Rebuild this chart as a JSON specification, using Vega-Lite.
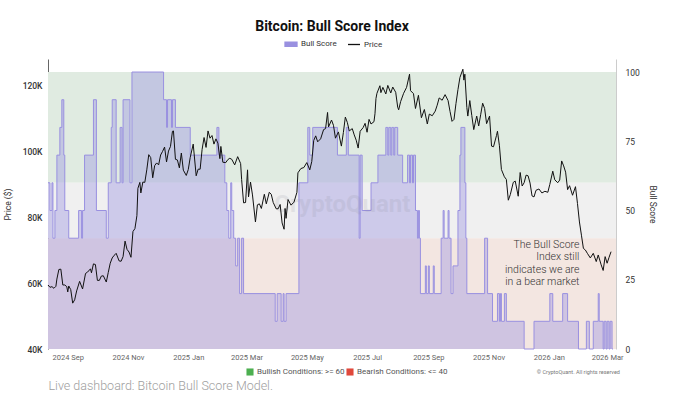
{
  "$schema": "https://vega.github.io/schema/vega-lite/v6.json",
  "width": 568,
  "height": 290,
  "autosize": "none",
  "padding": {"left": 48, "top": 59, "right": 59, "bottom": 46},
  "background": "white",
  "title": {
    "text": "Bitcoin: Bull Score Index",
    "frame": "group",
    "anchor": "middle",
    "offset": 3,
    "font": "Roboto",
    "fontSize": 14,
    "fontWeight": "bold",
    "color": "#111111"
  },
  "config": {
    "view": {"stroke": null},
    "axis": {"grid": false, "labelFont": "Roboto", "titleFont": "Roboto"},
    "legend": {"labelFont": "Roboto"},
    "text": {"font": "Roboto"}
  },
  "datasets": {
    "zones": [
      {"zone": "bull", "lo": 60, "hi": 100, "label": "Bullish Conditions: >= 60"},
      {"zone": "neutral", "lo": 40, "hi": 60, "label": "Neutral"},
      {"zone": "bear", "lo": 0, "hi": 40, "label": "Bearish Conditions: <= 40"}
    ],
    "score": [
      {"d": "2024-08-12", "s": 60}, {"d": "2024-08-14", "s": 50}, {"d": "2024-08-16", "s": 60},
      {"d": "2024-08-17", "s": 40}, {"d": "2024-08-19", "s": 50}, {"d": "2024-08-21", "s": 70},
      {"d": "2024-08-24", "s": 80}, {"d": "2024-08-26", "s": 90}, {"d": "2024-08-28", "s": 70},
      {"d": "2024-08-29", "s": 50}, {"d": "2024-09-02", "s": 40}, {"d": "2024-09-12", "s": 50},
      {"d": "2024-09-15", "s": 40}, {"d": "2024-09-16", "s": 50}, {"d": "2024-09-18", "s": 70},
      {"d": "2024-09-27", "s": 90}, {"d": "2024-09-30", "s": 50}, {"d": "2024-10-10", "s": 40},
      {"d": "2024-10-12", "s": 60}, {"d": "2024-10-15", "s": 80}, {"d": "2024-10-16", "s": 90},
      {"d": "2024-10-20", "s": 60}, {"d": "2024-10-24", "s": 80}, {"d": "2024-10-26", "s": 60},
      {"d": "2024-10-27", "s": 90}, {"d": "2024-11-03", "s": 60}, {"d": "2024-11-05", "s": 100},
      {"d": "2024-12-07", "s": 90}, {"d": "2024-12-10", "s": 80}, {"d": "2024-12-11", "s": 90},
      {"d": "2024-12-15", "s": 80}, {"d": "2024-12-16", "s": 90}, {"d": "2024-12-19", "s": 80},
      {"d": "2025-01-03", "s": 70}, {"d": "2025-01-30", "s": 80}, {"d": "2025-02-01", "s": 70},
      {"d": "2025-02-07", "s": 60}, {"d": "2025-02-09", "s": 50}, {"d": "2025-02-11", "s": 40},
      {"d": "2025-02-13", "s": 60}, {"d": "2025-02-14", "s": 50}, {"d": "2025-02-16", "s": 40},
      {"d": "2025-02-18", "s": 30}, {"d": "2025-02-20", "s": 40}, {"d": "2025-02-22", "s": 20},
      {"d": "2025-02-24", "s": 40}, {"d": "2025-02-26", "s": 20}, {"d": "2025-03-30", "s": 10},
      {"d": "2025-04-01", "s": 20}, {"d": "2025-04-05", "s": 10}, {"d": "2025-04-07", "s": 20},
      {"d": "2025-04-08", "s": 10}, {"d": "2025-04-10", "s": 20}, {"d": "2025-04-23", "s": 60},
      {"d": "2025-05-02", "s": 80}, {"d": "2025-05-04", "s": 70}, {"d": "2025-05-07", "s": 80},
      {"d": "2025-06-01", "s": 70}, {"d": "2025-06-10", "s": 80}, {"d": "2025-06-12", "s": 70},
      {"d": "2025-06-23", "s": 40}, {"d": "2025-06-24", "s": 70}, {"d": "2025-06-26", "s": 50},
      {"d": "2025-07-05", "s": 60}, {"d": "2025-07-12", "s": 70}, {"d": "2025-07-20", "s": 80},
      {"d": "2025-07-22", "s": 70}, {"d": "2025-07-23", "s": 80}, {"d": "2025-07-25", "s": 70},
      {"d": "2025-07-26", "s": 80}, {"d": "2025-07-28", "s": 70}, {"d": "2025-07-29", "s": 80},
      {"d": "2025-08-01", "s": 70}, {"d": "2025-08-06", "s": 60}, {"d": "2025-08-11", "s": 70},
      {"d": "2025-08-13", "s": 60}, {"d": "2025-08-14", "s": 70}, {"d": "2025-08-16", "s": 60},
      {"d": "2025-08-17", "s": 70}, {"d": "2025-08-19", "s": 50}, {"d": "2025-08-21", "s": 40},
      {"d": "2025-08-22", "s": 50}, {"d": "2025-08-23", "s": 40}, {"d": "2025-08-24", "s": 20},
      {"d": "2025-08-29", "s": 30}, {"d": "2025-08-30", "s": 20}, {"d": "2025-09-01", "s": 30},
      {"d": "2025-09-02", "s": 20}, {"d": "2025-09-06", "s": 30}, {"d": "2025-09-07", "s": 20},
      {"d": "2025-09-14", "s": 40}, {"d": "2025-09-16", "s": 50}, {"d": "2025-09-17", "s": 40},
      {"d": "2025-09-21", "s": 50}, {"d": "2025-09-22", "s": 40}, {"d": "2025-09-24", "s": 20},
      {"d": "2025-09-26", "s": 30}, {"d": "2025-10-01", "s": 50}, {"d": "2025-10-03", "s": 70},
      {"d": "2025-10-04", "s": 80}, {"d": "2025-10-08", "s": 60}, {"d": "2025-10-09", "s": 40},
      {"d": "2025-10-10", "s": 20}, {"d": "2025-10-28", "s": 40}, {"d": "2025-10-31", "s": 20},
      {"d": "2025-11-05", "s": 10}, {"d": "2025-11-10", "s": 20}, {"d": "2025-11-12", "s": 10},
      {"d": "2025-11-13", "s": 20}, {"d": "2025-11-14", "s": 10}, {"d": "2025-11-17", "s": 20},
      {"d": "2025-11-19", "s": 10}, {"d": "2025-12-07", "s": 0}, {"d": "2025-12-17", "s": 10},
      {"d": "2026-01-02", "s": 20}, {"d": "2026-01-05", "s": 10}, {"d": "2026-01-15", "s": 20},
      {"d": "2026-01-20", "s": 10}, {"d": "2026-01-31", "s": 0}, {"d": "2026-02-08", "s": 10},
      {"d": "2026-02-11", "s": 0}, {"d": "2026-02-15", "s": 10}, {"d": "2026-02-20", "s": 20},
      {"d": "2026-02-21", "s": 10}, {"d": "2026-02-25", "s": 0}, {"d": "2026-02-26", "s": 10},
      {"d": "2026-02-28", "s": 0}, {"d": "2026-03-01", "s": 10}, {"d": "2026-03-03", "s": 0},
      {"d": "2026-03-04", "s": 10}, {"d": "2026-03-06", "s": 0}, {"d": "2026-03-07", "s": 0}
    ],
    "price": [
      {"d": "2024-08-12", "p": 59400}, {"d": "2024-08-14", "p": 58700}, {"d": "2024-08-16", "p": 58900},
      {"d": "2024-08-18", "p": 58400}, {"d": "2024-08-20", "p": 59000}, {"d": "2024-08-21", "p": 61200},
      {"d": "2024-08-23", "p": 64100}, {"d": "2024-08-25", "p": 64200}, {"d": "2024-08-27", "p": 59400},
      {"d": "2024-08-29", "p": 59400}, {"d": "2024-08-31", "p": 58900}, {"d": "2024-09-01", "p": 57300},
      {"d": "2024-09-02", "p": 59100}, {"d": "2024-09-04", "p": 58000}, {"d": "2024-09-06", "p": 53900},
      {"d": "2024-09-08", "p": 54900}, {"d": "2024-09-10", "p": 57600}, {"d": "2024-09-13", "p": 60500},
      {"d": "2024-09-16", "p": 58200}, {"d": "2024-09-19", "p": 62900}, {"d": "2024-09-21", "p": 63300},
      {"d": "2024-09-24", "p": 64300}, {"d": "2024-09-25", "p": 63100}, {"d": "2024-09-27", "p": 65800},
      {"d": "2024-09-29", "p": 65600}, {"d": "2024-10-01", "p": 60800}, {"d": "2024-10-03", "p": 60800},
      {"d": "2024-10-05", "p": 62100}, {"d": "2024-10-07", "p": 62200}, {"d": "2024-10-10", "p": 60300},
      {"d": "2024-10-12", "p": 63200}, {"d": "2024-10-14", "p": 66000}, {"d": "2024-10-16", "p": 67600},
      {"d": "2024-10-18", "p": 68400}, {"d": "2024-10-20", "p": 69000}, {"d": "2024-10-23", "p": 66700},
      {"d": "2024-10-25", "p": 66600}, {"d": "2024-10-27", "p": 68000}, {"d": "2024-10-29", "p": 72700},
      {"d": "2024-10-31", "p": 70200}, {"d": "2024-11-02", "p": 69400}, {"d": "2024-11-04", "p": 67800},
      {"d": "2024-11-06", "p": 75600}, {"d": "2024-11-08", "p": 76500}, {"d": "2024-11-10", "p": 80400},
      {"d": "2024-11-11", "p": 88700}, {"d": "2024-11-13", "p": 90500}, {"d": "2024-11-14", "p": 87300},
      {"d": "2024-11-16", "p": 90600}, {"d": "2024-11-18", "p": 90500}, {"d": "2024-11-20", "p": 94300},
      {"d": "2024-11-22", "p": 98900}, {"d": "2024-11-24", "p": 98000}, {"d": "2024-11-26", "p": 91900},
      {"d": "2024-11-28", "p": 95600}, {"d": "2024-11-30", "p": 96400}, {"d": "2024-12-02", "p": 95800},
      {"d": "2024-12-04", "p": 98800}, {"d": "2024-12-06", "p": 99900}, {"d": "2024-12-08", "p": 101200},
      {"d": "2024-12-10", "p": 96700}, {"d": "2024-12-12", "p": 100000}, {"d": "2024-12-14", "p": 101400},
      {"d": "2024-12-16", "p": 106000}, {"d": "2024-12-17", "p": 106100}, {"d": "2024-12-19", "p": 97500},
      {"d": "2024-12-21", "p": 97300}, {"d": "2024-12-23", "p": 94900}, {"d": "2024-12-25", "p": 99400},
      {"d": "2024-12-27", "p": 94200}, {"d": "2024-12-30", "p": 92600}, {"d": "2025-01-01", "p": 94400},
      {"d": "2025-01-03", "p": 98100}, {"d": "2025-01-06", "p": 102100}, {"d": "2025-01-09", "p": 92500},
      {"d": "2025-01-11", "p": 94500}, {"d": "2025-01-13", "p": 94500}, {"d": "2025-01-15", "p": 100500},
      {"d": "2025-01-17", "p": 104100}, {"d": "2025-01-19", "p": 101100}, {"d": "2025-01-21", "p": 106100},
      {"d": "2025-01-23", "p": 103900}, {"d": "2025-01-25", "p": 104700}, {"d": "2025-01-27", "p": 102100},
      {"d": "2025-01-29", "p": 103700}, {"d": "2025-01-31", "p": 102400}, {"d": "2025-02-02", "p": 97700},
      {"d": "2025-02-03", "p": 101400}, {"d": "2025-02-05", "p": 96600}, {"d": "2025-02-08", "p": 96500},
      {"d": "2025-02-10", "p": 97400}, {"d": "2025-02-12", "p": 97800}, {"d": "2025-02-14", "p": 97500},
      {"d": "2025-02-17", "p": 95800}, {"d": "2025-02-20", "p": 98300}, {"d": "2025-02-23", "p": 96200},
      {"d": "2025-02-24", "p": 91400}, {"d": "2025-02-26", "p": 84300}, {"d": "2025-02-28", "p": 84400},
      {"d": "2025-03-02", "p": 94300}, {"d": "2025-03-03", "p": 86100}, {"d": "2025-03-05", "p": 90600},
      {"d": "2025-03-07", "p": 86700}, {"d": "2025-03-10", "p": 78500}, {"d": "2025-03-12", "p": 83700},
      {"d": "2025-03-14", "p": 84000}, {"d": "2025-03-16", "p": 82600}, {"d": "2025-03-19", "p": 86900},
      {"d": "2025-03-21", "p": 84000}, {"d": "2025-03-24", "p": 87500}, {"d": "2025-03-26", "p": 86900},
      {"d": "2025-03-28", "p": 84400}, {"d": "2025-03-31", "p": 82500}, {"d": "2025-04-02", "p": 82500},
      {"d": "2025-04-04", "p": 83800}, {"d": "2025-04-06", "p": 78200}, {"d": "2025-04-08", "p": 76300},
      {"d": "2025-04-09", "p": 82600}, {"d": "2025-04-10", "p": 79600}, {"d": "2025-04-12", "p": 85300},
      {"d": "2025-04-15", "p": 83600}, {"d": "2025-04-18", "p": 84500}, {"d": "2025-04-21", "p": 87500},
      {"d": "2025-04-22", "p": 93400}, {"d": "2025-04-25", "p": 94700}, {"d": "2025-04-28", "p": 95000},
      {"d": "2025-05-01", "p": 96500}, {"d": "2025-05-04", "p": 94300}, {"d": "2025-05-06", "p": 96800},
      {"d": "2025-05-08", "p": 103200}, {"d": "2025-05-10", "p": 104600}, {"d": "2025-05-12", "p": 102800},
      {"d": "2025-05-15", "p": 103700}, {"d": "2025-05-18", "p": 106500}, {"d": "2025-05-20", "p": 106800},
      {"d": "2025-05-22", "p": 111700}, {"d": "2025-05-23", "p": 107300}, {"d": "2025-05-26", "p": 109400},
      {"d": "2025-05-28", "p": 107800}, {"d": "2025-05-30", "p": 103900}, {"d": "2025-06-02", "p": 105800},
      {"d": "2025-06-05", "p": 101500}, {"d": "2025-06-07", "p": 105600}, {"d": "2025-06-09", "p": 110300},
      {"d": "2025-06-11", "p": 108700}, {"d": "2025-06-13", "p": 106100}, {"d": "2025-06-16", "p": 106800},
      {"d": "2025-06-18", "p": 104900}, {"d": "2025-06-20", "p": 103300}, {"d": "2025-06-22", "p": 100900},
      {"d": "2025-06-24", "p": 106000}, {"d": "2025-06-27", "p": 107100}, {"d": "2025-06-29", "p": 108400},
      {"d": "2025-07-01", "p": 105700}, {"d": "2025-07-03", "p": 109600}, {"d": "2025-07-05", "p": 108200},
      {"d": "2025-07-08", "p": 108900}, {"d": "2025-07-09", "p": 111300}, {"d": "2025-07-10", "p": 115900},
      {"d": "2025-07-11", "p": 117500}, {"d": "2025-07-14", "p": 119800}, {"d": "2025-07-15", "p": 117700},
      {"d": "2025-07-17", "p": 119300}, {"d": "2025-07-20", "p": 117300}, {"d": "2025-07-22", "p": 119900},
      {"d": "2025-07-25", "p": 117600}, {"d": "2025-07-27", "p": 119400}, {"d": "2025-07-30", "p": 117800},
      {"d": "2025-08-01", "p": 113300}, {"d": "2025-08-02", "p": 112500}, {"d": "2025-08-04", "p": 115000},
      {"d": "2025-08-07", "p": 117500}, {"d": "2025-08-10", "p": 119300}, {"d": "2025-08-13", "p": 123300},
      {"d": "2025-08-14", "p": 118300}, {"d": "2025-08-17", "p": 117400}, {"d": "2025-08-19", "p": 112900},
      {"d": "2025-08-22", "p": 116900}, {"d": "2025-08-25", "p": 110100}, {"d": "2025-08-28", "p": 112600},
      {"d": "2025-08-31", "p": 108200}, {"d": "2025-09-02", "p": 111200}, {"d": "2025-09-05", "p": 110700},
      {"d": "2025-09-08", "p": 112100}, {"d": "2025-09-10", "p": 113900}, {"d": "2025-09-12", "p": 116100},
      {"d": "2025-09-15", "p": 115400}, {"d": "2025-09-18", "p": 117100}, {"d": "2025-09-21", "p": 115300},
      {"d": "2025-09-23", "p": 112000}, {"d": "2025-09-25", "p": 109000}, {"d": "2025-09-27", "p": 109600},
      {"d": "2025-09-29", "p": 114400}, {"d": "2025-10-01", "p": 118600}, {"d": "2025-10-03", "p": 122300},
      {"d": "2025-10-06", "p": 124800}, {"d": "2025-10-07", "p": 121500}, {"d": "2025-10-08", "p": 123300},
      {"d": "2025-10-10", "p": 113200}, {"d": "2025-10-11", "p": 110600}, {"d": "2025-10-13", "p": 115300},
      {"d": "2025-10-15", "p": 110800}, {"d": "2025-10-17", "p": 106500}, {"d": "2025-10-20", "p": 110600},
      {"d": "2025-10-22", "p": 107600}, {"d": "2025-10-24", "p": 111000}, {"d": "2025-10-26", "p": 114500},
      {"d": "2025-10-28", "p": 112900}, {"d": "2025-10-30", "p": 108300}, {"d": "2025-11-02", "p": 110600},
      {"d": "2025-11-04", "p": 101500}, {"d": "2025-11-06", "p": 101300}, {"d": "2025-11-09", "p": 104700},
      {"d": "2025-11-10", "p": 106000}, {"d": "2025-11-12", "p": 101600}, {"d": "2025-11-14", "p": 94400},
      {"d": "2025-11-17", "p": 92200}, {"d": "2025-11-19", "p": 91400}, {"d": "2025-11-21", "p": 85100},
      {"d": "2025-11-23", "p": 86800}, {"d": "2025-11-26", "p": 90500}, {"d": "2025-11-28", "p": 90900},
      {"d": "2025-12-01", "p": 86300}, {"d": "2025-12-03", "p": 93500}, {"d": "2025-12-05", "p": 89400},
      {"d": "2025-12-07", "p": 90400}, {"d": "2025-12-09", "p": 92700}, {"d": "2025-12-11", "p": 92500},
      {"d": "2025-12-13", "p": 90300}, {"d": "2025-12-15", "p": 86400}, {"d": "2025-12-17", "p": 86100},
      {"d": "2025-12-19", "p": 88100}, {"d": "2025-12-22", "p": 88500}, {"d": "2025-12-25", "p": 87300},
      {"d": "2025-12-28", "p": 87800}, {"d": "2025-12-31", "p": 87500}, {"d": "2026-01-02", "p": 89900},
      {"d": "2026-01-05", "p": 93900}, {"d": "2026-01-07", "p": 91300}, {"d": "2026-01-10", "p": 90400},
      {"d": "2026-01-12", "p": 91200}, {"d": "2026-01-14", "p": 97000}, {"d": "2026-01-16", "p": 95500},
      {"d": "2026-01-18", "p": 93600}, {"d": "2026-01-20", "p": 88300}, {"d": "2026-01-22", "p": 89500},
      {"d": "2026-01-25", "p": 86600}, {"d": "2026-01-28", "p": 89200}, {"d": "2026-01-30", "p": 84100},
      {"d": "2026-02-01", "p": 78500}, {"d": "2026-02-03", "p": 74500}, {"d": "2026-02-05", "p": 70500},
      {"d": "2026-02-07", "p": 70000}, {"d": "2026-02-09", "p": 69000}, {"d": "2026-02-12", "p": 67600},
      {"d": "2026-02-15", "p": 69000}, {"d": "2026-02-18", "p": 66500}, {"d": "2026-02-20", "p": 68500},
      {"d": "2026-02-23", "p": 65500}, {"d": "2026-02-25", "p": 63800}, {"d": "2026-02-27", "p": 68000},
      {"d": "2026-03-01", "p": 66000}, {"d": "2026-03-03", "p": 67800}, {"d": "2026-03-05", "p": 69500}
    ],
    "notes": [
      {"d": "2026-02-01", "s": 39.5, "text": "The Bull Score\nIndex still\nindicates we are\nin a bear market"}
    ]
  },
  "layer": [
    {
      "layer": [
        {
          "data": {"name": "zones"},
          "transform": [{"filter": "datum.zone === 'bull'"}],
          "mark": {"type": "rect", "fill": "#e0ebe1"},
          "encoding": {
            "y": {"field": "lo", "type": "quantitative", "title": "Bull Score",
                  "scale": {"domain": [0, 104.7], "nice": false, "zero": false},
                  "axis": {"orient": "right", "values": [0, 25, 50, 75, 100], "ticks": false,
                           "domainColor": "#cccccc", "labelColor": "#333333", "labelFontSize": 8.5,
                           "labelPadding": 9, "titleFontSize": 8.5, "titleFontWeight": "normal",
                           "titleColor": "#333333", "titlePadding": 8}},
            "y2": {"field": "hi"}
          }
        },
        {
          "data": {"name": "zones"},
          "transform": [{"filter": "datum.zone === 'neutral'"}],
          "mark": {"type": "rect", "fill": "#f0f0f0"},
          "encoding": {
            "y": {"field": "lo", "type": "quantitative", "title": "Bull Score", "scale": {"domain": [0, 104.7], "nice": false, "zero": false}},
            "y2": {"field": "hi"}
          }
        },
        {
          "data": {"name": "zones"},
          "transform": [{"filter": "datum.zone === 'bear'"}],
          "mark": {"type": "rect", "fill": "#f3e6e1"},
          "encoding": {
            "y": {"field": "lo", "type": "quantitative", "title": "Bull Score", "scale": {"domain": [0, 104.7], "nice": false, "zero": false}},
            "y2": {"field": "hi"}
          }
        },
        {
          "data": {"name": "zones"},
          "transform": [{"filter": "datum.zone !== 'neutral'"}],
          "mark": {"type": "rect"},
          "encoding": {
            "y": {"field": "lo", "type": "quantitative", "title": "Bull Score", "scale": {"domain": [0, 104.7], "nice": false, "zero": false}},
            "y2": {"field": "lo"},
            "fill": {"field": "label", "type": "nominal",
                     "scale": {"domain": ["Bullish Conditions: >= 60", "Bearish Conditions: <= 40"], "range": ["#4caf50", "#e0483b"]},
                     "legend": {"orient": "none", "legendX": 198, "legendY": 309, "direction": "horizontal", "title": null,
                                "symbolType": "square", "symbolSize": 50, "labelFontSize": 8, "labelColor": "#555555",
                                "columnPadding": 1, "labelOffset": 3, "symbolStrokeWidth": 0}}
          }
        },
        {
          "data": {"name": "score"},
          "mark": {"type": "area", "interpolate": "step-after", "fillOpacity": 0.4,
                   "line": {"color": "#a7a1e8", "strokeWidth": 1, "interpolate": "step-after"}},
          "encoding": {
            "x": {"field": "d", "type": "temporal",
                  "scale": {"domain": [{"year": 2024, "month": 8, "date": 12}, {"year": 2026, "month": 3, "date": 10}]},
                  "axis": {"values": [
                             {"year": 2024, "month": 9, "date": 1}, {"year": 2024, "month": 11, "date": 1},
                             {"year": 2025, "month": 1, "date": 1}, {"year": 2025, "month": 3, "date": 1},
                             {"year": 2025, "month": 5, "date": 1}, {"year": 2025, "month": 7, "date": 1},
                             {"year": 2025, "month": 9, "date": 1}, {"year": 2025, "month": 11, "date": 1},
                             {"year": 2026, "month": 1, "date": 1}, {"year": 2026, "month": 3, "date": 1}],
                           "format": "%Y %b", "domain": false, "ticks": false, "labelColor": "#666666",
                           "labelFontSize": 7.5, "labelPadding": 4,
                           "title": "Live dashboard: Bitcoin Bull Score Model.", "titleAnchor": "start",
                           "titleFontSize": 12.5, "titleFontWeight": 300, "titleColor": "#9e9e9e", "titlePadding": 19}},
            "y": {"field": "s", "type": "quantitative", "title": "Bull Score", "scale": {"domain": [0, 104.7], "nice": false, "zero": false}},
            "color": {"datum": "Bull Score",
                      "scale": {"domain": ["Bull Score", "Price"], "range": ["#9990e0", "#111111"]},
                      "legend": {"orient": "none", "legendX": 236, "legendY": -22, "direction": "horizontal", "title": null,
                                 "labelFontSize": 8, "labelColor": "#333333", "columnPadding": 8, "labelOffset": 3,
                                 "symbolSize": 144,
                                 "encode": {"symbols": {"update": {
                                   "shape": {"signal": "datum.value === 'Price' ? 'stroke' : 'M-1,-0.35H1V0.35H-1Z'"},
                                   "fill": {"signal": "datum.value === 'Price' ? 'transparent' : '#bdb8ea'"},
                                   "stroke": {"signal": "datum.value === 'Price' ? '#111111' : '#bdb8ea'"},
                                   "strokeWidth": {"value": 1.3},
                                   "opacity": {"value": 1},
                                   "fillOpacity": {"value": 1}
                                 }}}}}
          }
        },
        {
          "data": {"values": [{"label": "CryptoQuant"}]},
          "mark": {"type": "text", "fontSize": 24, "fontWeight": "bold", "color": "#8a8a9a", "opacity": 0.15, "align": "center", "baseline": "middle"},
          "encoding": {
            "x": {"datum": {"year": 2025, "month": 6, "date": 6}, "type": "temporal"},
            "y": {"datum": 52, "type": "quantitative", "scale": {"domain": [0, 104.7], "nice": false, "zero": false}},
            "text": {"field": "label"}
          }
        },
        {
          "data": {"name": "notes"},
          "mark": {"type": "text", "align": "right", "baseline": "top", "lineBreak": "\n", "fontSize": 10.5,
                   "fontWeight": 300, "color": "#333333", "lineHeight": 12.5},
          "encoding": {
            "x": {"field": "d", "type": "temporal"},
            "y": {"field": "s", "type": "quantitative", "title": "Bull Score", "scale": {"domain": [0, 104.7], "nice": false, "zero": false}},
            "text": {"field": "text"}
          }
        },
        {
          "data": {"values": [{"label": "© CryptoQuant. All rights reserved"}]},
          "mark": {"type": "text", "fontSize": 5.5, "color": "#777777", "align": "right", "baseline": "middle"},
          "encoding": {
            "x": {"datum": {"year": 2026, "month": 3, "date": 14}, "type": "temporal"},
            "y": {"datum": -8.2, "type": "quantitative", "scale": {"domain": [0, 104.7], "nice": false, "zero": false}},
            "text": {"field": "label"}
          }
        }
      ]
    },
    {
      "data": {"name": "price"},
      "mark": {"type": "line", "strokeWidth": 1, "interpolate": "linear"},
      "encoding": {
        "x": {"field": "d", "type": "temporal"},
        "y": {"field": "p", "type": "quantitative", "title": "Price ($)",
              "scale": {"domain": [40000, 127900], "nice": false, "zero": false},
              "axis": {"orient": "left", "values": [40000, 60000, 80000, 100000, 120000],
                       "labelExpr": "format(datum.value / 1000, 'd') + 'K'", "ticks": false,
                       "domainColor": "#666666", "labelColor": "#333333", "labelFontSize": 8.5, "labelFontWeight": 500,
                       "labelPadding": 6, "titleFontSize": 8.5, "titleFontWeight": "normal", "titleColor": "#333333",
                       "titlePadding": 10}},
        "color": {"datum": "Price"}
      }
    }
  ],
  "resolve": {"scale": {"y": "independent"}, "axis": {"y": "independent"}}
}
